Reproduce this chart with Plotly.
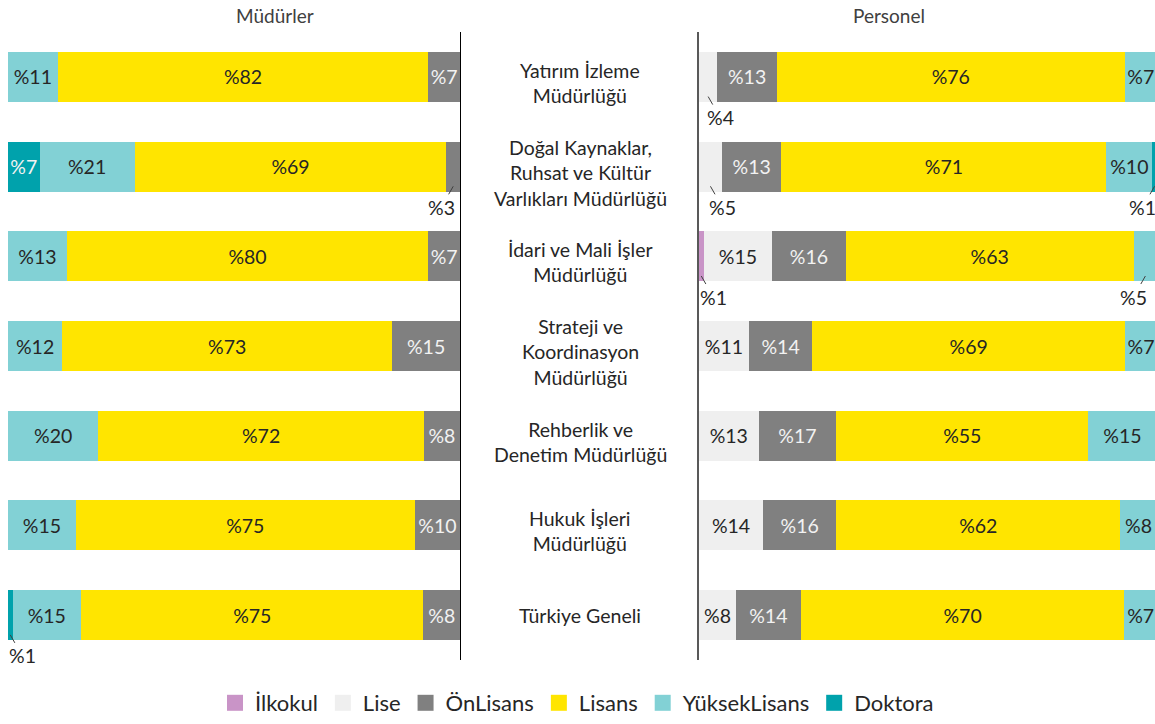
import plotly.graph_objects as go

# ---------------- data ----------------
categories = [
    "Yatırım İzleme<br>Müdürlüğü",
    "Doğal Kaynaklar,<br>Ruhsat ve Kültür<br>Varlıkları Müdürlüğü",
    "İdari ve Mali İşler<br>Müdürlüğü",
    "Strateji ve<br>Koordinasyon<br>Müdürlüğü",
    "Rehberlik ve<br>Denetim Müdürlüğü",
    "Hukuk İşleri<br>Müdürlüğü",
    "Türkiye Geneli",
]
levels = ["İlkokul", "Lise", "ÖnLisans", "Lisans", "YüksekLisans", "Doktora"]

mudur_ilkokul = [0, 0, 0, 0, 0, 0, 0]
mudur_lise = [0, 0, 0, 0, 0, 0, 0]
mudur_onlisans = [7, 3, 7, 15, 8, 10, 8]
mudur_lisans = [82, 69, 80, 73, 72, 75, 75]
mudur_yuksek = [11, 21, 13, 12, 20, 15, 15]
mudur_doktora = [0, 7, 0, 0, 0, 0, 1]

personel_ilkokul = [0, 0, 1, 0, 0, 0, 0]
personel_lise = [4, 5, 15, 11, 13, 14, 8]
personel_onlisans = [13, 13, 16, 14, 17, 16, 14]
personel_lisans = [76, 71, 63, 69, 55, 62, 70]
personel_yuksek = [7, 10, 5, 7, 15, 8, 7]
personel_doktora = [0, 1, 0, 0, 0, 0, 0]

mudur = [mudur_ilkokul, mudur_lise, mudur_onlisans, mudur_lisans, mudur_yuksek, mudur_doktora]
personel = [personel_ilkokul, personel_lise, personel_onlisans, personel_lisans, personel_yuksek, personel_doktora]

# ---------------- style ----------------
colors = ["#C994C7", "#EFEFEF", "#808080", "#FFE500", "#82D1D5", "#00A2AC"]
text_colors = ["#262626", "#262626", "#F2F2F2", "#262626", "#262626", "#F2F2F2"]
FONT = "Lato"
FS = 19.5
W, H = 1155, 724
TOP, BOTTOM = 32, 660
ydom = [1 - BOTTOM / H, 1 - TOP / H]
INSIDE_MIN = 6

fig = go.Figure()
annotations = []


def add_panel(data, xa, ya, reverse):
    n = len(categories)
    totals = [sum(series[i] for series in data) for i in range(n)]
    cum = [0.0] * n
    for j, series in enumerate(data):
        xs = [series[i] * 100.0 / totals[i] for i in range(n)]
        texts = ["%" + str(v) if v >= INSIDE_MIN else "" for v in series]
        fig.add_trace(go.Bar(
            y=categories, x=xs, orientation="h", name=levels[j],
            marker=dict(color=colors[j], line=dict(width=0)),
            text=texts, textposition="inside", insidetextanchor="middle",
            textangle=0, constraintext="none",
            textfont=dict(family=FONT, size=FS, color=text_colors[j]),
            hoverinfo="skip", showlegend=False,
            xaxis=xa, yaxis=ya,
        ))
        for i, v in enumerate(series):
            if 0 < v < INSIDE_MIN:
                c = cum[i] + xs[i] / 2
                sign = 1 if c < 50 else -1
                if reverse:
                    sign = -sign
                annotations.append(dict(
                    x=c, y=i + 0.22, xref=xa, yref=ya,
                    text="%" + str(v), showarrow=True, arrowhead=0,
                    arrowwidth=1, arrowcolor="#404040", standoff=0,
                    ax=sign * 12, ay=21,
                    font=dict(family=FONT, size=FS, color="#262626"),
                ))
        cum = [cum[i] + xs[i] for i in range(n)]


add_panel(mudur, "x", "y", True)
add_panel(personel, "x2", "y2", False)

# legend entries
for j, lv in enumerate(levels):
    fig.add_trace(go.Scatter(
        x=[None], y=[None], mode="markers", name=lv,
        marker=dict(symbol="square", size=16, color=colors[j]),
        xaxis="x", yaxis="y", showlegend=True, hoverinfo="skip",
    ))

# category labels in the middle
for i, cat in enumerate(categories):
    annotations.append(dict(
        x=580 / W, xref="paper", y=i, yref="y", text=cat, showarrow=False,
        yshift=-6 if "<br>" in cat else 0,
        font=dict(family=FONT, size=FS, color="#262626"), align="center",
    ))

annotations.append(dict(x=234 / W, y=1 - 16 / H, xref="paper", yref="paper",
                        yanchor="middle", text="Müdürler", showarrow=False,
                        font=dict(family=FONT, size=19, color="#404040")))
annotations.append(dict(x=927 / W, y=1 - 16 / H, xref="paper", yref="paper",
                        yanchor="middle", text="Personel", showarrow=False,
                        font=dict(family=FONT, size=19, color="#404040")))

fig.update_layout(
    width=W, height=H,
    margin=dict(l=0, r=0, t=0, b=0),
    paper_bgcolor="white", plot_bgcolor="white",
    barmode="stack", bargap=0.443,
    font=dict(family=FONT, size=FS, color="#262626"),
    xaxis=dict(domain=[8 / W, 460 / W], range=[100, 0], visible=False,
               anchor="y", fixedrange=True),
    yaxis=dict(domain=ydom, type="category", range=[6.5, -0.5], side="right",
               showline=True, linecolor="#000000", linewidth=1,
               showticklabels=False, ticks="", showgrid=False, zeroline=False,
               anchor="x", fixedrange=True),
    xaxis2=dict(domain=[699 / W, 1.0], range=[0, 99.6], visible=False,
                anchor="y2", fixedrange=True),
    yaxis2=dict(domain=ydom, type="category", range=[6.5, -0.5], side="left",
                showline=True, linecolor="#595959", linewidth=2,
                showticklabels=False, ticks="", showgrid=False, zeroline=False,
                anchor="x2", fixedrange=True),
    legend=dict(orientation="h", x=577 / W, xanchor="center", y=0,
                yanchor="bottom", font=dict(family=FONT, size=22, color="#262626"),
                itemsizing="trace", traceorder="normal"),
    annotations=annotations,
)

fig.write_html(
    "out.html",
    config={"displayModeBar": False},
    post_script="document.body.style.margin='0';document.body.style.overflow='hidden';",
)
